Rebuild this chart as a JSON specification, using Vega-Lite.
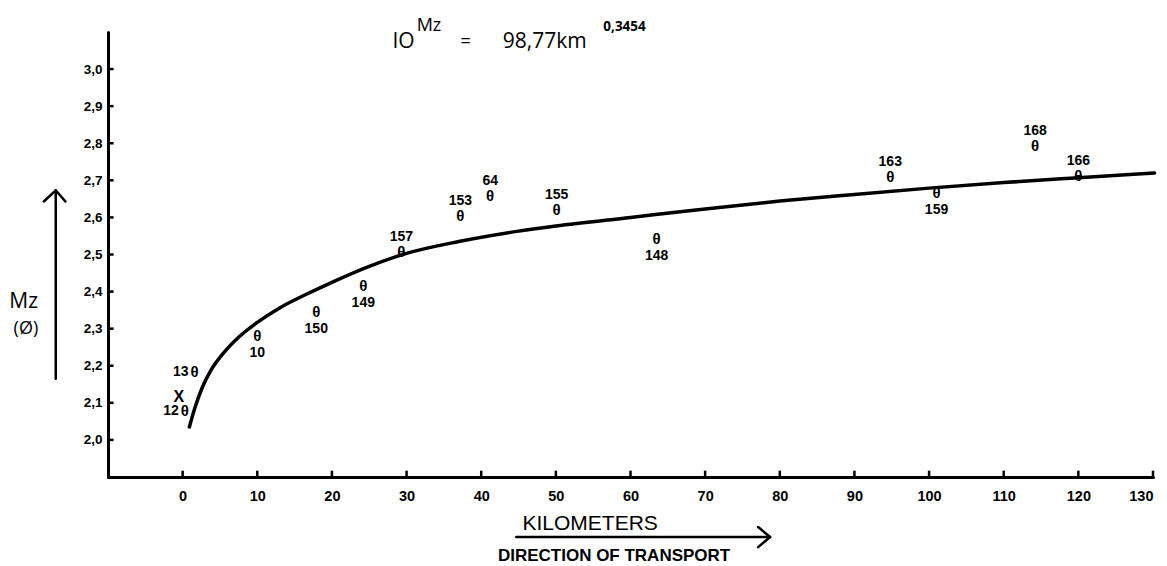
{
  "$schema": "https://vega.github.io/schema/vega-lite/v6.json",
  "width": 1045,
  "height": 445,
  "autosize": {"type": "none"},
  "padding": {"left": 108, "top": 32, "right": 14, "bottom": 89},
  "background": "white",
  "config": {
    "view": {"stroke": null},
    "font": "Liberation Sans",
    "text": {"font": "Liberation Sans", "fontWeight": "bold", "color": "black"}
  },
  "datasets": {
    "curve": [
      {"km": 0.9, "mz": 2.035}, {"km": 1.7, "mz": 2.09}, {"km": 2.6, "mz": 2.14},
      {"km": 3.8, "mz": 2.188}, {"km": 5.5, "mz": 2.235}, {"km": 7.5, "mz": 2.277},
      {"km": 10, "mz": 2.317}, {"km": 13, "mz": 2.356}, {"km": 16.5, "mz": 2.392},
      {"km": 20, "mz": 2.425}, {"km": 25, "mz": 2.468}, {"km": 30, "mz": 2.503},
      {"km": 37, "mz": 2.535}, {"km": 45, "mz": 2.563}, {"km": 50, "mz": 2.577},
      {"km": 60, "mz": 2.6}, {"km": 70, "mz": 2.623}, {"km": 80, "mz": 2.644},
      {"km": 90, "mz": 2.662}, {"km": 100, "mz": 2.679}, {"km": 110, "mz": 2.694},
      {"km": 120, "mz": 2.707}, {"km": 130.2, "mz": 2.72}
    ],
    "samples": [
      {"id": "13", "km": 1.6, "mz": 2.184, "side": "left"},
      {"id": "12", "km": 0.3, "mz": 2.078, "side": "left"},
      {"id": "10", "km": 10.0, "mz": 2.281, "side": "below"},
      {"id": "150", "km": 17.9, "mz": 2.346, "side": "below"},
      {"id": "149", "km": 24.2, "mz": 2.416, "side": "below"},
      {"id": "157", "km": 29.3, "mz": 2.508, "side": "above"},
      {"id": "153", "km": 37.2, "mz": 2.603, "side": "above"},
      {"id": "64", "km": 41.2, "mz": 2.659, "side": "above"},
      {"id": "155", "km": 50.1, "mz": 2.619, "side": "above"},
      {"id": "148", "km": 63.5, "mz": 2.543, "side": "below"},
      {"id": "163", "km": 94.8, "mz": 2.708, "side": "above"},
      {"id": "159", "km": 101.0, "mz": 2.665, "side": "below"},
      {"id": "168", "km": 114.2, "mz": 2.792, "side": "above"},
      {"id": "166", "km": 120.0, "mz": 2.712, "side": "above"}
    ],
    "cross": [{"km": -0.5, "mz": 2.116}],
    "ticks": [
      {"id": "x0", "km": 0, "mz": 1.9}, {"id": "x0", "km": 0, "mz": 1.917},
      {"id": "x10", "km": 10, "mz": 1.9}, {"id": "x10", "km": 10, "mz": 1.917},
      {"id": "x20", "km": 20, "mz": 1.9}, {"id": "x20", "km": 20, "mz": 1.917},
      {"id": "x30", "km": 30, "mz": 1.9}, {"id": "x30", "km": 30, "mz": 1.917},
      {"id": "x40", "km": 40, "mz": 1.9}, {"id": "x40", "km": 40, "mz": 1.917},
      {"id": "x50", "km": 50, "mz": 1.9}, {"id": "x50", "km": 50, "mz": 1.917},
      {"id": "x60", "km": 60, "mz": 1.9}, {"id": "x60", "km": 60, "mz": 1.917},
      {"id": "x70", "km": 70, "mz": 1.9}, {"id": "x70", "km": 70, "mz": 1.917},
      {"id": "x80", "km": 80, "mz": 1.9}, {"id": "x80", "km": 80, "mz": 1.917},
      {"id": "x90", "km": 90, "mz": 1.9}, {"id": "x90", "km": 90, "mz": 1.917},
      {"id": "x100", "km": 100, "mz": 1.9}, {"id": "x100", "km": 100, "mz": 1.917},
      {"id": "x110", "km": 110, "mz": 1.9}, {"id": "x110", "km": 110, "mz": 1.917},
      {"id": "x120", "km": 120, "mz": 1.9}, {"id": "x120", "km": 120, "mz": 1.917},
      {"id": "x130", "km": 130, "mz": 1.9}, {"id": "x130", "km": 130, "mz": 1.917},
      {"id": "y20", "km": -10, "mz": 2.0}, {"id": "y20", "km": -9.25, "mz": 2.0},
      {"id": "y21", "km": -10, "mz": 2.1}, {"id": "y21", "km": -9.25, "mz": 2.1},
      {"id": "y22", "km": -10, "mz": 2.2}, {"id": "y22", "km": -9.25, "mz": 2.2},
      {"id": "y23", "km": -10, "mz": 2.3}, {"id": "y23", "km": -9.25, "mz": 2.3},
      {"id": "y24", "km": -10, "mz": 2.4}, {"id": "y24", "km": -9.25, "mz": 2.4},
      {"id": "y25", "km": -10, "mz": 2.5}, {"id": "y25", "km": -9.25, "mz": 2.5},
      {"id": "y26", "km": -10, "mz": 2.6}, {"id": "y26", "km": -9.25, "mz": 2.6},
      {"id": "y27", "km": -10, "mz": 2.7}, {"id": "y27", "km": -9.25, "mz": 2.7},
      {"id": "y28", "km": -10, "mz": 2.8}, {"id": "y28", "km": -9.25, "mz": 2.8},
      {"id": "y29", "km": -10, "mz": 2.9}, {"id": "y29", "km": -9.25, "mz": 2.9},
      {"id": "y30", "km": -10, "mz": 3.0}, {"id": "y30", "km": -9.25, "mz": 3.0}
    ],
    "arrows": [
      {"id": "h", "ord": 1, "km": 44.7, "mz": 1.738},
      {"id": "h", "ord": 2, "km": 78.7, "mz": 1.738},
      {"id": "hh", "ord": 1, "km": 77.1, "mz": 1.765},
      {"id": "hh", "ord": 2, "km": 78.7, "mz": 1.738},
      {"id": "hh", "ord": 3, "km": 77.1, "mz": 1.711},
      {"id": "v", "ord": 1, "km": -17.0, "mz": 2.165},
      {"id": "v", "ord": 2, "km": -17.0, "mz": 2.673},
      {"id": "vh", "ord": 1, "km": -18.6, "mz": 2.643},
      {"id": "vh", "ord": 2, "km": -17.0, "mz": 2.673},
      {"id": "vh", "ord": 3, "km": -15.7, "mz": 2.643}
    ],
    "bigText": [
      {"t": "IO", "km": 29.6, "mz": 3.073},
      {"t": "98,77km", "km": 48.5, "mz": 3.073},
      {"t": "Mz", "km": -21.3, "mz": 2.373}
    ],
    "midText": [
      {"t": "Mz", "km": 33.0, "mz": 3.116},
      {"t": "=", "km": 37.9, "mz": 3.073},
      {"t": "(Ø)", "km": -21.0, "mz": 2.3}
    ],
    "axisText": [
      {"t": "KILOMETERS", "km": 54.6, "mz": 1.773}
    ],
    "smallText": [
      {"t": "0,3454", "km": 59.2, "mz": 3.114}
    ],
    "subText": [
      {"t": "DIRECTION OF TRANSPORT", "km": 57.8, "mz": 1.686}
    ]
  },
  "encoding": {
    "x": {
      "field": "km", "type": "quantitative",
      "scale": {"domain": [-10, 130], "nice": false, "zero": false},
      "axis": {
        "values": [0, 10, 20, 30, 40, 50, 60, 70, 80, 90, 100, 110, 120, 130],
        "title": null, "grid": false, "ticks": false,
        "domainColor": "black", "domainWidth": 3, "domainCap": "round",
        "labelPadding": 12, "labelFontSize": 14.5, "labelFontWeight": "bold",
        "labelColor": "black", "labelFont": "Liberation Sans"
      }
    },
    "y": {
      "field": "mz", "type": "quantitative",
      "scale": {"domain": [1.9, 3.1], "nice": false, "zero": false},
      "axis": {
        "values": [2.0, 2.1, 2.2, 2.3, 2.4, 2.5, 2.6, 2.7, 2.8, 2.9, 3.0],
        "labelExpr": "replace(format(datum.value, '.1f'), '.', ',')",
        "title": null, "grid": false, "ticks": false,
        "domainColor": "black", "domainWidth": 3, "domainCap": "round",
        "labelPadding": 6, "labelFontSize": 13.5, "labelFontWeight": "bold",
        "labelColor": "black", "labelFont": "Liberation Sans"
      }
    }
  },
  "layer": [
    {
      "data": {"name": "ticks"},
      "mark": {"type": "line", "color": "black", "strokeWidth": 2.5},
      "encoding": {"detail": {"field": "id"}}
    },
    {
      "data": {"name": "curve"},
      "mark": {"type": "line", "color": "black", "strokeWidth": 3.5, "interpolate": "monotone", "strokeCap": "round"}
    },
    {
      "data": {"name": "samples"},
      "mark": {"type": "text", "text": "θ", "fontSize": 15, "baseline": "middle", "align": "center"}
    },
    {
      "data": {"name": "samples"},
      "transform": [{"filter": "datum.side === 'above'"}],
      "mark": {"type": "text", "fontSize": 14, "baseline": "middle", "align": "center", "dy": -15},
      "encoding": {"text": {"field": "id"}}
    },
    {
      "data": {"name": "samples"},
      "transform": [{"filter": "datum.side === 'below'"}],
      "mark": {"type": "text", "fontSize": 14, "baseline": "middle", "align": "center", "dy": 17},
      "encoding": {"text": {"field": "id"}}
    },
    {
      "data": {"name": "samples"},
      "transform": [{"filter": "datum.side === 'left'"}],
      "mark": {"type": "text", "fontSize": 14, "baseline": "middle", "align": "right", "dx": -6},
      "encoding": {"text": {"field": "id"}}
    },
    {
      "data": {"name": "cross"},
      "mark": {"type": "text", "text": "X", "fontSize": 16, "fontWeight": "bold", "baseline": "middle", "align": "center"}
    },
    {
      "data": {"name": "arrows"},
      "mark": {"type": "line", "color": "black", "strokeWidth": 2.5, "strokeCap": "round", "strokeJoin": "round"},
      "encoding": {"detail": {"field": "id"}, "order": {"field": "ord"}}
    },
    {
      "data": {"name": "bigText"},
      "mark": {"type": "text", "fontSize": 21, "fontWeight": "normal", "baseline": "middle", "align": "center", "font": "Open Sans"},
      "encoding": {"text": {"field": "t"}}
    },
    {
      "data": {"name": "midText"},
      "mark": {"type": "text", "fontSize": 18, "fontWeight": "normal", "baseline": "middle", "align": "center", "font": "Open Sans"},
      "encoding": {"text": {"field": "t"}}
    },
    {
      "data": {"name": "axisText"},
      "mark": {"type": "text", "fontSize": 21, "fontWeight": "normal", "baseline": "middle", "align": "center", "font": "Liberation Sans"},
      "encoding": {"text": {"field": "t"}}
    },
    {
      "data": {"name": "smallText"},
      "mark": {"type": "text", "fontSize": 13.5, "fontWeight": "bold", "baseline": "middle", "align": "center", "font": "Open Sans"},
      "encoding": {"text": {"field": "t"}}
    },
    {
      "data": {"name": "subText"},
      "mark": {"type": "text", "fontSize": 17, "fontWeight": "bold", "baseline": "middle", "align": "center", "font": "Liberation Sans"},
      "encoding": {"text": {"field": "t"}}
    }
  ]
}
